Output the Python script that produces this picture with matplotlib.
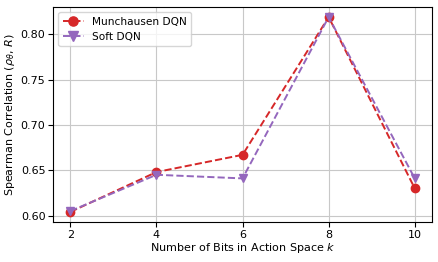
import numpy as np
import matplotlib
matplotlib.use('Agg')
import matplotlib.pyplot as plt

# datos
bits = [2, 4, 6, 8, 10]
munchausen = [0.604, 0.648, 0.667, 0.819, 0.630]
soft = [0.605, 0.645, 0.641, 0.819, 0.641]

fig, ax = plt.subplots(figsize=(4.39, 2.62), dpi=100)
ax.plot(bits, munchausen, '--o', color='#d62728', lw=1.4, ms=6, label='Munchausen DQN')
ax.plot(bits, soft, '--v', color='#9467bd', lw=1.4, ms=6, label='Soft DQN')

ax.set_xticks(bits)
ax.set_yticks([0.60, 0.65, 0.70, 0.75, 0.80])
ax.set_ylim(0.593, 0.830)
ax.set_xlabel('Number of Bits in Action Space $k$', fontsize=8, labelpad=1)
ax.set_ylabel(r'Spearman Correlation ($\rho_\theta$, $R$)', fontsize=8, labelpad=3)
ax.tick_params(labelsize=8, pad=2)
ax.grid(True, color='#c8c8c8')
ax.legend(loc='upper left', fontsize=7.6, markerscale=1.1)
fig.subplots_adjust(left=0.121, right=0.984, top=0.973, bottom=0.153)
fig.savefig('out.png')
